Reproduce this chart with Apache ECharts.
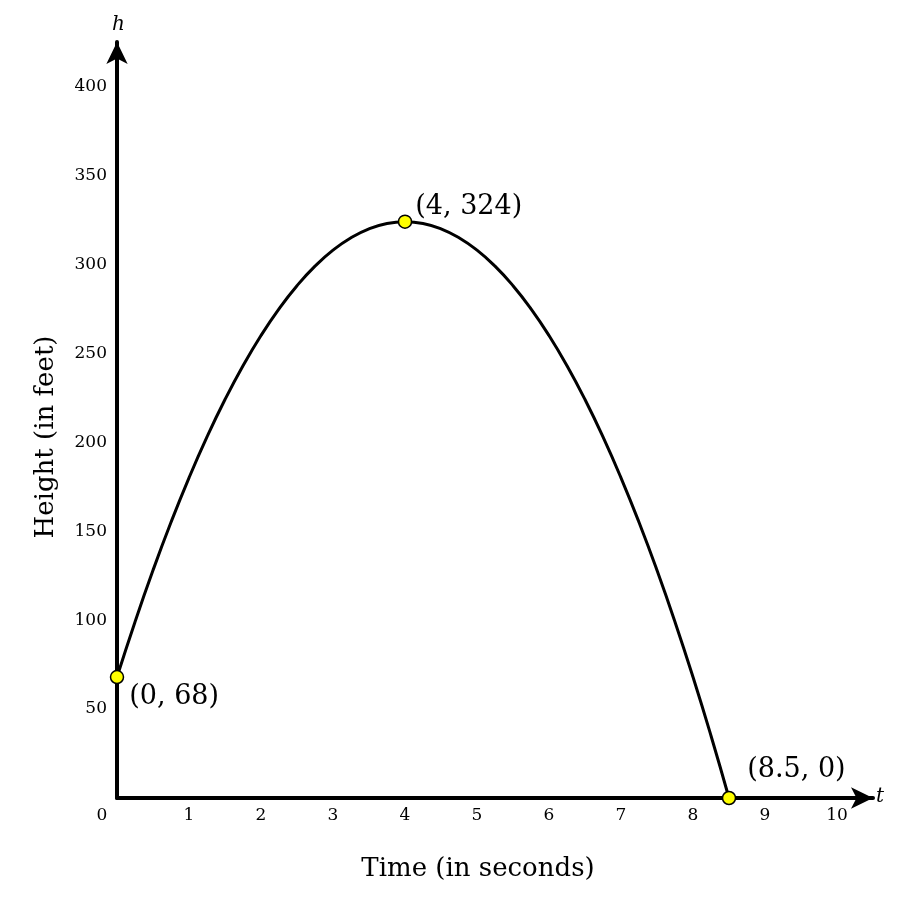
<!DOCTYPE html>
<html>
<head>
<meta charset="utf-8">
<script src="https://cdn.jsdelivr.net/npm/echarts@6/dist/echarts.min.js"></script>
<style>
  html, body { margin: 0; padding: 0; background: #fff; }
  #main { width: 912px; height: 906px; }
</style>
</head>
<body>
<div id="main"></div>
<script>
// time in seconds and height in feet
let timeVals = [0, 0.25, 0.5, 0.75, 1, 1.25, 1.5, 1.75, 2, 2.25, 2.5, 2.75, 3, 3.25, 3.5, 3.75, 4,
  4.25, 4.5, 4.75, 5, 5.25, 5.5, 5.75, 6, 6.25, 6.5, 6.75, 7, 7.25, 7.5, 7.75, 8, 8.25, 8.5]
let heightVals = [68, 99, 128, 155, 180, 203, 224, 243, 260, 275, 288, 299, 308, 315, 320, 323, 324,
  323, 320, 315, 308, 299, 288, 275, 260, 243, 224, 203, 180, 155, 128, 99, 68, 35, 0]
// marked points
let markT = [0, 4, 8.5]
let markH = [68, 324, 0]
// tick labels
let xTicks = [0, 1, 2, 3, 4, 5, 6, 7, 8, 9, 10]
let yTicks = [50, 100, 150, 200, 250, 300, 350, 400]

let myChart = echarts.init(document.getElementById('main'))
let serif = 'DejaVu Serif'

// where each point label sits
let labelPlace = [
  { position: 'right', offset: [0, 20] },
  { position: 'right', offset: [-2, -15] },
  { position: 'right', offset: [6, -28] }
]

function curveData() {
  let out = []
  timeVals.forEach((t, i) => {
    out.push([t, heightVals[i]])
  })
  return out
}

function pointData() {
  return markT.map((t, i) => ({
    value: [t, markH[i]],
    label: labelPlace[i]
  }))
}

let option = {
  animation: false,
  grid: { left: 117, right: 39, top: 42, bottom: 108 },
  xAxis: {
    type: 'value',
    min: 0,
    max: 10.5,
    interval: 1,
    name: 'Time (in seconds)',
    nameLocation: 'middle',
    nameGap: 58,
    nameTextStyle: { fontFamily: serif, fontSize: 26, color: '#000', padding: [0, 34, 0, 0] },
    axisLine: {
      onZero: false,
      symbol: ['none', 'arrow'],
      symbolSize: [16, 22],
      lineStyle: { color: '#000', width: 4 }
    },
    axisTick: { show: false },
    splitLine: { show: false },
    axisLabel: {
      margin: 9,
      color: '#000',
      fontFamily: serif,
      fontSize: 17,
      formatter: function (v) {
        if (xTicks.indexOf(v) < 0) return ''
        if (v === 0) return '{z|0}'
        return String(v)
      },
      rich: { z: { fontFamily: serif, fontSize: 17, color: '#000', padding: [0, 30, 0, 0] } }
    }
  },
  yAxis: {
    type: 'value',
    min: 0,
    max: 425,
    interval: 50,
    name: 'Height (in feet)',
    nameLocation: 'middle',
    nameGap: 58,
    nameTextStyle: { fontFamily: serif, fontSize: 26, color: '#000', padding: [0, 34, 0, 0] },
    axisLine: {
      show: true,
      onZero: false,
      symbol: ['none', 'arrow'],
      symbolSize: [16, 22],
      lineStyle: { color: '#000', width: 4 }
    },
    axisTick: { show: false },
    splitLine: { show: false },
    axisLabel: {
      margin: 10,
      color: '#000',
      fontFamily: serif,
      fontSize: 17,
      formatter: function (v) {
        return yTicks.indexOf(v) < 0 ? '' : String(v)
      }
    }
  },
  graphic: [
    { type: 'text', left: 876, top: 787, style: { text: 't', font: 'italic 20px "DejaVu Serif"', fill: '#000' } },
    { type: 'text', left: 112, top: 15, style: { text: 'h', font: 'italic 20px "DejaVu Serif"', fill: '#000' } }
  ],
  series: [
    {
      type: 'line',
      data: curveData(),
      smooth: true,
      symbol: 'none',
      lineStyle: { color: '#000', width: 3 },
      z: 3
    },
    {
      type: 'scatter',
      data: pointData(),
      symbolSize: 13,
      itemStyle: { color: '#ffff00', borderColor: '#000', borderWidth: 1.5, opacity: 1 },
      label: {
        show: true,
        color: '#000',
        opacity: 1,
        fontFamily: serif,
        fontSize: 27,
        formatter: function (p) {
          return '(' + p.value[0] + ', ' + p.value[1] + ')'
        }
      },
      z: 5
    }
  ]
}

myChart.setOption(option)
</script>
</body>
</html>
